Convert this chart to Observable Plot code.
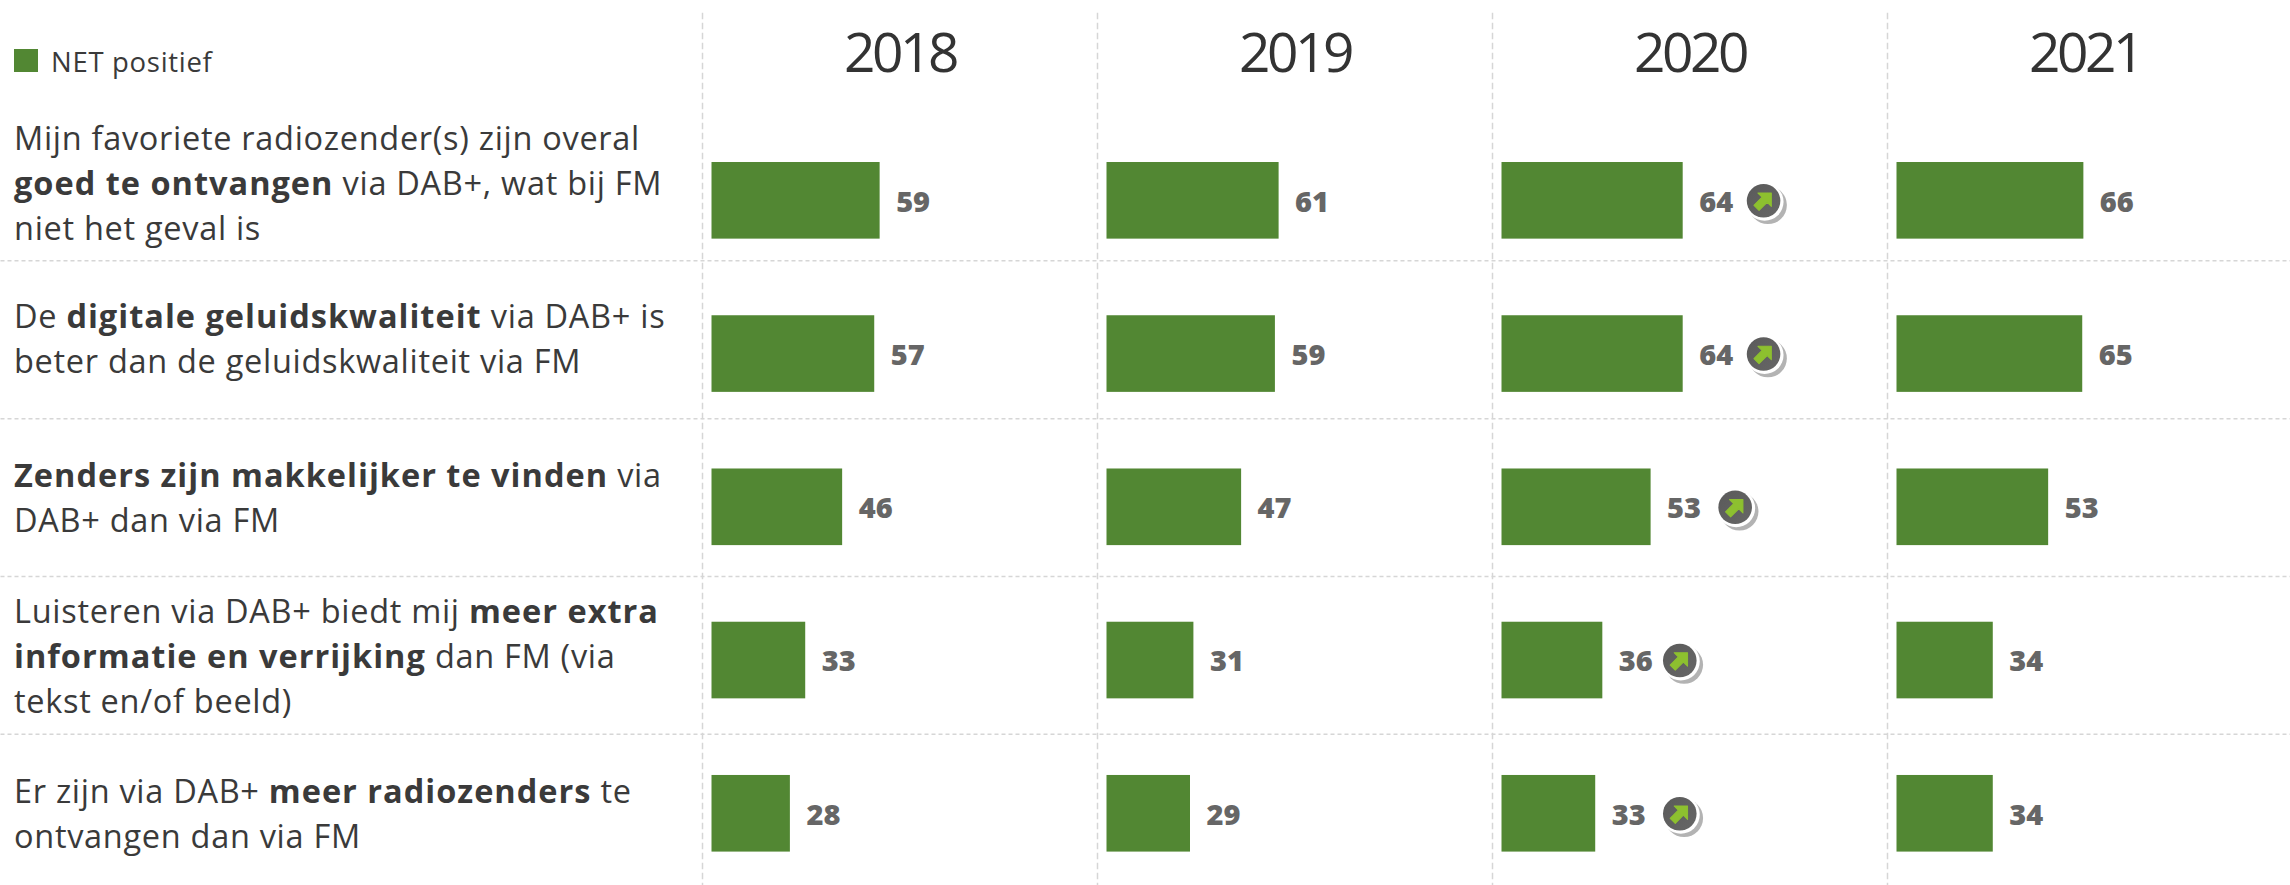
<!DOCTYPE html>
<html lang="nl">
<head>
<meta charset="utf-8">
<script src="https://cdn.jsdelivr.net/npm/d3@7"></script>
<script src="https://cdn.jsdelivr.net/npm/@observablehq/plot@0.6"></script>
<style>
  html, body { margin: 0; padding: 0; background: #fff; }
  #chart { position: relative; width: 2290px; height: 885px; overflow: hidden; font-family: "Open Sans", sans-serif; color: #3a3a3a; }
  #chart svg { position: absolute; left: 0; top: 0; }
  #chart svg [aria-label="fx-axis tick label"] { letter-spacing: -3.5px; }
  .statement { position: absolute; left: 14px; font-size: 32.5px; line-height: 45px; letter-spacing: 0.7px; white-space: nowrap; }
  .statement b { font-weight: 700; letter-spacing: 1px; }
  .legend { position: absolute; left: 14px; top: 47px; height: 23px; font-size: 27.5px; line-height: 30px; letter-spacing: 0.7px; white-space: nowrap; }
  .legend i { display: inline-block; width: 24px; height: 23px; background: #528733; margin: 2px 13px 0 0; vertical-align: top; }
</style>
</head>
<body>
<div id="chart"></div>
<script>
const years = ["2018", "2019", "2020", "2021"];
const statements = [
  "Mijn favoriete radiozender(s) zijn overal<br><b>goed te ontvangen</b> via DAB+, wat bij FM<br>niet het geval is",
  "De <b>digitale geluidskwaliteit</b> via DAB+ is<br>beter dan de geluidskwaliteit via FM",
  "<b>Zenders zijn makkelijker te vinden</b> via<br>DAB+ dan via FM",
  "Luisteren via DAB+ biedt mij <b>meer extra</b><br><b>informatie en verrijking</b> dan FM (via<br>tekst en/of beeld)",
  "Er zijn via DAB+ <b>meer radiozenders</b> te<br>ontvangen dan via FM"
];
const statementTops = [115, 293, 452, 588, 768];
// Bar lengths; the labels show them rounded.
const values2018 = [59.2, 57.3, 46, 33, 27.6];
const values2019 = [60.6, 59.3, 47.4, 30.6, 29.4];
const values2020 = [63.8, 63.8, 52.5, 35.5, 33];
const values2021 = [65.8, 65.4, 53.4, 33.9, 33.9];
const risingYears = ["2020"];
const badgeAnchors = [92.1, 92.1, 82.1, 62.6, 62.6]; // on the value axis
const separators = [0.891, 1.922, 2.951, 3.981]; // in row units

const green = "#528733", grid = "#d6d6d6", arrowGreen = "#8dc02f";
const series = [values2018, values2019, values2020, values2021];
const rows = years.flatMap((year, c) => series[c].map((value, row) => ({year, row, value})));
const rising = rows.filter(d => risingYears.includes(d.year));

const arrowShape = {
  draw(ctx) {
    ctx.moveTo(0, -11); ctx.lineTo(9.5, -1.5); ctx.lineTo(3.6, -1.5); ctx.lineTo(3.6, 10);
    ctx.lineTo(-3.6, 10); ctx.lineTo(-3.6, -1.5); ctx.lineTo(-9.5, -1.5); ctx.closePath();
  }
};

const mid = d => d.row + 0.5;
const badgeX = d => badgeAnchors[d.row];
const plot = Plot.plot({
  width: 2290, height: 885,
  marginTop: 13, marginRight: 0, marginBottom: 0, marginLeft: 0,
  facet: {margin: 0},
  style: {fontFamily: "'Open Sans', sans-serif", background: "transparent", overflow: "visible"},
  fx: {domain: years, range: [701.5, 2281.5], padding: 0, label: null},
  x: {domain: [0, 100], range: [9.5, 293.5], axis: null},
  y: {domain: [0, 5], range: [123.7, 889.9], axis: null},
  marks: [
    Plot.ruleY(separators, {y: d => d, fx: () => years[0], insetLeft: -701.5, insetRight: -1193.5, stroke: grid, strokeWidth: 1.5, strokeDasharray: "4 3"}),
    Plot.frame({anchor: "left", stroke: grid, strokeWidth: 1.5, strokeDasharray: "5 5"}),
    Plot.axisFx({anchor: "top", tickSize: 0, tickPadding: 0, label: null, fontSize: 55, fontWeight: 400, dy: 58, fill: "#333", ariaLabel: "fx-axis tick label"}),
    Plot.rect(rows, {fx: "year", x1: 0, x2: "value", y1: d => d.row + 0.25, y2: d => d.row + 0.75, fill: green}),
    Plot.text(rows, {fx: "year", x: "value", y: mid, text: d => String(Math.round(d.value)), dx: 16, dy: 1.5, textAnchor: "start", fontSize: 29, fontWeight: 800, fill: "#666"}),
    Plot.dot(rising, {fx: "year", x: badgeX, y: mid, r: 19, dx: 4.3, dy: 4.3, fill: "#b3b3b3"}),
    Plot.dot(rising, {fx: "year", x: badgeX, y: mid, r: 19, dx: 1, dy: 1, fill: "#fff"}),
    Plot.dot(rising, {fx: "year", x: badgeX, y: mid, r: 16.8, fill: "url(#badge)"}),
    Plot.vector(rising, {fx: "year", x: badgeX, y: mid, rotate: 45, length: 1, anchor: "start", shape: arrowShape, fill: arrowGreen, stroke: arrowGreen, strokeWidth: 1, strokeLinejoin: "round"})
  ]
});

const defs = d3.select(plot).append("defs");
const gradient = defs.append("linearGradient").attr("id", "badge").attr("x1", 0).attr("y1", 0).attr("x2", 1).attr("y2", 1);
gradient.append("stop").attr("offset", "0%").attr("stop-color", "#5a5a5a");
gradient.append("stop").attr("offset", "100%").attr("stop-color", "#666");

d3.select(plot).selectAll('[aria-label^="fx-axis"]').style("letter-spacing", "-3.5px");

const chart = document.getElementById("chart");
chart.append(plot);

const legend = document.createElement("div");
legend.className = "legend";
legend.innerHTML = "<i></i>NET positief";
chart.append(legend);

statements.forEach((html, i) => {
  const el = document.createElement("div");
  el.className = "statement";
  el.style.top = statementTops[i] + "px";
  el.innerHTML = html;
  chart.append(el);
});
</script>
</body>
</html>
